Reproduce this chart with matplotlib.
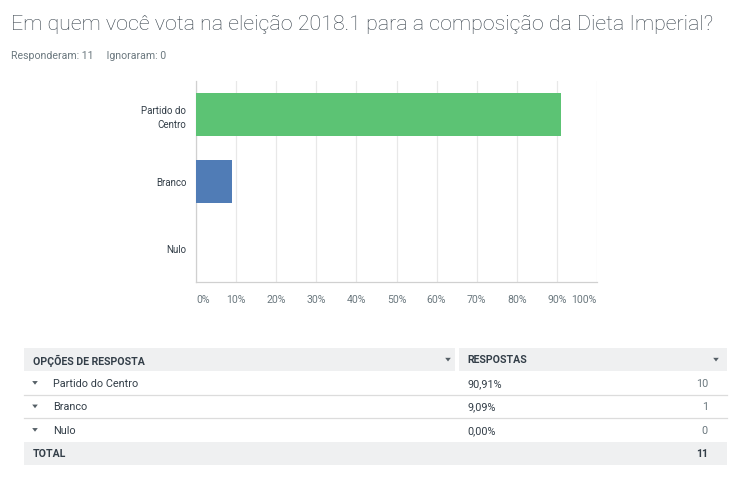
import matplotlib
matplotlib.use("Agg")
import matplotlib.pyplot as plt
from matplotlib.patches import Rectangle, Polygon

categories = ["Partido do\nCentro", "Branco", "Nulo"]
table_names = ["Partido do Centro", "Branco", "Nulo"]
percents = [90.91, 9.09, 0.00]
counts = [10, 1, 0]
total = 11
ignored = 0
bar_colors = ["#5cc374", "#507cb6", "#507cb6"]
xticks = [0, 10, 20, 30, 40, 50, 60, 70, 80, 90, 100]
xtick_labels = [f"{t}%" for t in xticks]

W, H = 750, 485
fig = plt.figure(figsize=(W / 100, H / 100), dpi=100)
fig.patch.set_facecolor("white")
plt.rcParams["font.family"] = ["Roboto", "DejaVu Sans"]

# overlay for text / table in pixel coords
ov = fig.add_axes([0, 0, 1, 1])
ov.set_xlim(0, W)
ov.set_ylim(H, 0)
ov.axis("off")

TXT = "#333e48"
GRAY = "#6b787f"

ov.text(11, 25, "Em quem você vota na eleição 2018.1 para a composição da Dieta Imperial?",
        fontsize=15.4, color="#333e48", va="center", ha="left", fontweight="light")
ov.text(11, 56, f"Responderam: {total}     Ignoraram: {ignored}", fontsize=7.6,
        color=GRAY, va="center", ha="left")

# bar chart
left, right, top, bottom = 196, 597, 82, 283
ax = fig.add_axes([left / W, (H - bottom) / H, (right - left) / W, (bottom - top) / H])
ypos = list(range(len(categories)))
ax.barh(ypos, percents, height=0.64, color=bar_colors, zorder=3)
ax.set_xlim(0, 100)
ax.set_ylim(len(categories) - 0.5, -0.5)
ax.set_xticks(xticks)
ax.set_xticklabels(xtick_labels, fontsize=7.6, color="#6b787f")
for i, lab in enumerate(ax.get_xticklabels()):
    if i == 0:
        lab.set_ha("left")
    elif i == len(xticks) - 1:
        lab.set_ha("right")
ax.set_yticks(ypos)
ax.set_yticklabels(categories, fontsize=7, color="#333e48", linespacing=1.5)
ax.tick_params(axis="both", length=0)
ax.tick_params(axis="x", pad=8.5)
ax.tick_params(axis="y", pad=7)
ax.grid(axis="x", color="#e8e8e8", linewidth=0.9, zorder=0)
for s in ["top", "right"]:
    ax.spines[s].set_visible(False)
ax.spines["left"].set_color("#d0d0d0")
ax.spines["bottom"].set_color("#d0d0d0")
ax.spines["left"].set_linewidth(0.9)
ax.spines["bottom"].set_linewidth(0.9)

# table
tl, tr = 24, 727
split = 457
hdr_top, hdr_bot = 349, 372
row_h = 23.5
hdr_bg = "#eff0f1"

def tri(x, y, s=3.0, c="#555f66"):
    ov.add_patch(Polygon([[x - s, y - s * 0.6], [x + s, y - s * 0.6], [x, y + s * 0.7]],
                         closed=True, color=c, lw=0))

ov.add_patch(Rectangle((tl, hdr_top), split - 2 - tl, hdr_bot - hdr_top, color=hdr_bg, lw=0))
ov.add_patch(Rectangle((split + 2, hdr_top), tr - split - 2, hdr_bot - hdr_top, color=hdr_bg, lw=0))
hy = (hdr_top + hdr_bot) / 2
ov.text(33, hy, "OPÇÕES DE RESPOSTA", fontsize=7.6, fontweight="bold", color="#333e48",
        va="center", ha="left")
ov.text(467, hy, "RESPOSTAS", fontsize=7.6, fontweight="bold", color="#333e48",
        va="center", ha="left")
tri(448, hy, 2.8)
tri(716, hy, 2.8)

y0 = hdr_bot
for i, (nm, p, c) in enumerate(zip(table_names, percents, counts)):
    yc = y0 + row_h * i + row_h / 2
    tri(35, yc, 2.8)
    ov.text(53, yc, nm, fontsize=7.8, color="#333e48", va="center", ha="left")
    ov.text(467, yc, f"{p:.2f}%".replace(".", ","), fontsize=7.8, color="#333e48",
            va="center", ha="left")
    ov.text(708, yc, str(c), fontsize=7.8, color="#6b787f", va="center", ha="right")
    if i < len(table_names) - 1:
        ov.plot([tl, tr], [y0 + row_h * (i + 1)] * 2, color="#dcdcdc", lw=0.9)

t_top = y0 + row_h * len(table_names)
ov.add_patch(Rectangle((tl, t_top), tr - tl, 23, color=hdr_bg, lw=0))
ov.text(33, t_top + 11.5, "TOTAL", fontsize=7.6, fontweight="bold", color="#333e48",
        va="center", ha="left")
ov.text(708, t_top + 11.5, str(total), fontsize=7.6, fontweight="bold", color="#333e48",
        va="center", ha="right")

fig.savefig("out.png", dpi=100, facecolor="white")
